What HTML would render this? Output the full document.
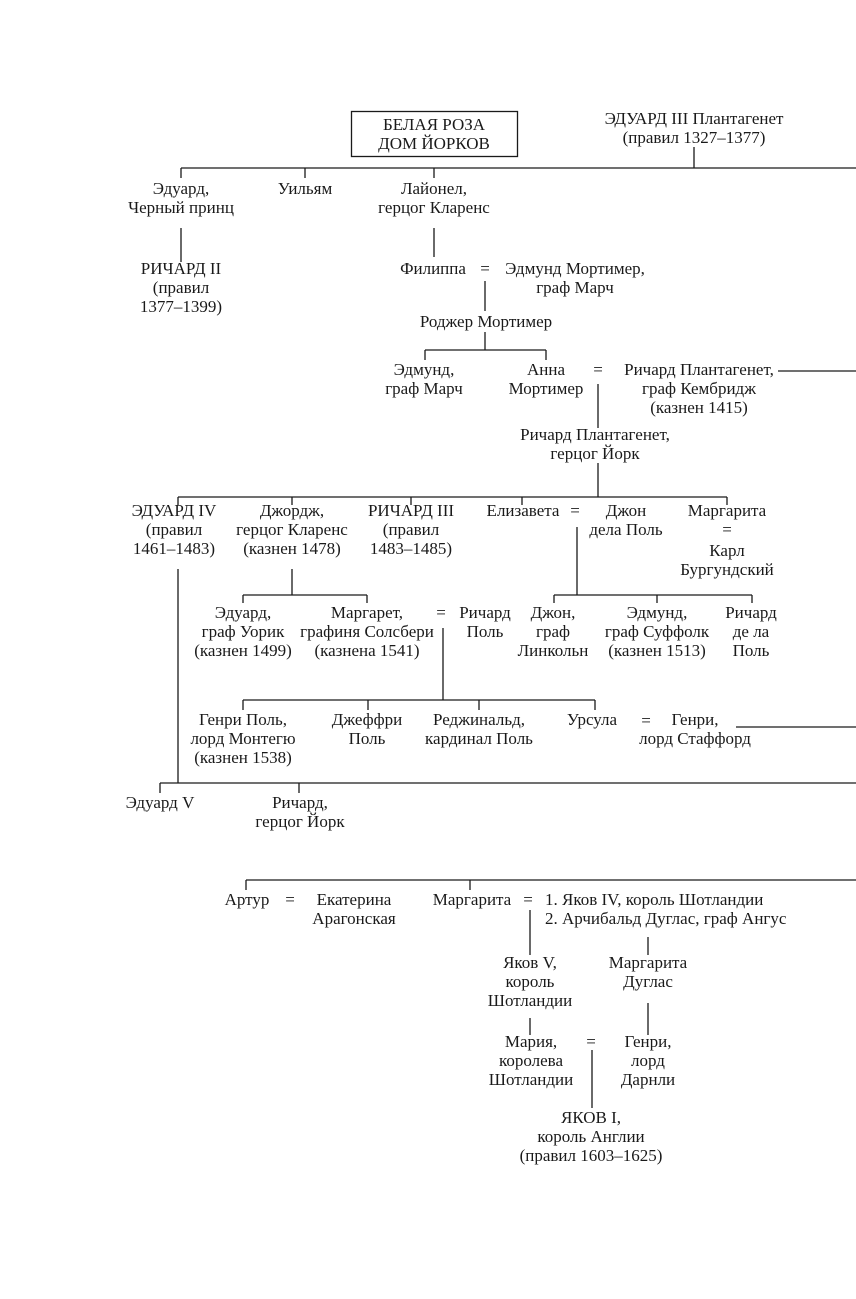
<!DOCTYPE html>
<html><head><meta charset="utf-8"><style>
html,body{margin:0;padding:0;background:#fff}
#w{position:relative;width:856px;height:1299px;overflow:hidden;font-family:"Liberation Serif","DejaVu Serif",serif;font-size:17px;color:#1a1a1a}
.t{position:absolute;transform:translateX(-50%);text-align:center;white-space:nowrap;line-height:19px}
.l{position:absolute;white-space:nowrap;line-height:19px}
svg{position:absolute;left:0;top:0}
</style></head><body><div id="w">
<svg width="856" height="1299" stroke="#1a1a1a" stroke-width="1.3" fill="none">
<rect x="351.5" y="111.5" width="166" height="45"/>
<path d="M694 147V168M181 168H856M181 168V178M305 168V178M434 168V178"/>
<path d="M181 228V262M434 228V257M485 281V311M485 332V350M425 350H546M425 350V360M546 350V360M778 371H856M598 384V428"/>
<path d="M598 463V497M178 497H727M178 497V505M292 497V505M411 497V505M522 497V505M727 497V505"/>
<path d="M292 569V595M243 595H367M243 595V603M367 595V603"/>
<path d="M577 527V595M554 595H752M554 595V603M657 595V603M752 595V603"/>
<path d="M443 628V700M243 700H595M243 700V710M368 700V710M479 700V710M595 700V710M736 727H856"/>
<path d="M178 569V783M160 783H856M160 783V793M299 783V793"/>
<path d="M246 880H856M246 880V890M470 880V890M530 910V955M648 937V955M530 1018V1035M648 1003V1035M592 1050V1108"/>
</svg>
<div class="t" style="left:434px;top:115px">БЕЛАЯ РОЗА<br>ДОМ ЙОРКОВ</div>
<div class="t" style="left:694px;top:109px">ЭДУАРД III Плантагенет<br>(правил 1327–1377)</div>
<div class="t" style="left:181px;top:179px">Эдуард,<br>Черный принц</div>
<div class="t" style="left:305px;top:179px">Уильям</div>
<div class="t" style="left:434px;top:179px">Лайонел,<br>герцог Кларенс</div>
<div class="t" style="left:181px;top:259px">РИЧАРД II<br>(правил<br>1377–1399)</div>
<div class="t" style="left:433px;top:259px">Филиппа</div>
<div class="t" style="left:485px;top:259px">=</div>
<div class="t" style="left:575px;top:259px">Эдмунд Мортимер,<br>граф Марч</div>
<div class="t" style="left:486px;top:312px">Роджер Мортимер</div>
<div class="t" style="left:424px;top:360px">Эдмунд,<br>граф Марч</div>
<div class="t" style="left:546px;top:360px">Анна<br>Мортимер</div>
<div class="t" style="left:598px;top:360px">=</div>
<div class="t" style="left:699px;top:360px">Ричард Плантагенет,<br>граф Кембридж<br>(казнен 1415)</div>
<div class="t" style="left:595px;top:425px">Ричард Плантагенет,<br>герцог Йорк</div>
<div class="t" style="left:174px;top:501px">ЭДУАРД IV<br>(правил<br>1461–1483)</div>
<div class="t" style="left:292px;top:501px">Джордж,<br>герцог Кларенс<br>(казнен 1478)</div>
<div class="t" style="left:411px;top:501px">РИЧАРД III<br>(правил<br>1483–1485)</div>
<div class="t" style="left:523px;top:501px">Елизавета</div>
<div class="t" style="left:575px;top:501px">=</div>
<div class="t" style="left:626px;top:501px">Джон<br>дела Поль</div>
<div class="t" style="left:727px;top:501px">Маргарита<br>=</div>
<div class="t" style="left:727px;top:541px">Карл<br>Бургундский</div>
<div class="t" style="left:243px;top:603px">Эдуард,<br>граф Уорик<br>(казнен 1499)</div>
<div class="t" style="left:367px;top:603px">Маргарет,<br>графиня Солсбери<br>(казнена 1541)</div>
<div class="t" style="left:441px;top:603px">=</div>
<div class="t" style="left:485px;top:603px">Ричард<br>Поль</div>
<div class="t" style="left:553px;top:603px">Джон,<br>граф<br>Линкольн</div>
<div class="t" style="left:657px;top:603px">Эдмунд,<br>граф Суффолк<br>(казнен 1513)</div>
<div class="t" style="left:751px;top:603px">Ричард<br>де ла<br>Поль</div>
<div class="t" style="left:243px;top:710px">Генри Поль,<br>лорд Монтегю<br>(казнен 1538)</div>
<div class="t" style="left:367px;top:710px">Джеффри<br>Поль</div>
<div class="t" style="left:479px;top:710px">Реджинальд,<br>кардинал Поль</div>
<div class="t" style="left:592px;top:710px">Урсула</div>
<div class="t" style="left:646px;top:711px">=</div>
<div class="t" style="left:695px;top:710px">Генри,<br>лорд Стаффорд</div>
<div class="t" style="left:160px;top:793px">Эдуард V</div>
<div class="t" style="left:300px;top:793px">Ричард,<br>герцог Йорк</div>
<div class="t" style="left:247px;top:890px">Артур</div>
<div class="t" style="left:290px;top:890px">=</div>
<div class="t" style="left:354px;top:890px">Екатерина<br>Арагонская</div>
<div class="t" style="left:472px;top:890px">Маргарита</div>
<div class="t" style="left:528px;top:890px">=</div>
<div class="l" style="left:545px;top:890px">1. Яков IV, король Шотландии<br>2. Арчибальд Дуглас, граф Ангус</div>
<div class="t" style="left:530px;top:953px">Яков V,<br>король<br>Шотландии</div>
<div class="t" style="left:648px;top:953px">Маргарита<br>Дуглас</div>
<div class="t" style="left:531px;top:1032px">Мария,<br>королева<br>Шотландии</div>
<div class="t" style="left:591px;top:1032px">=</div>
<div class="t" style="left:648px;top:1032px">Генри,<br>лорд<br>Дарнли</div>
<div class="t" style="left:591px;top:1108px">ЯКОВ I,<br>король Англии<br>(правил 1603–1625)</div>
</div></body></html>
